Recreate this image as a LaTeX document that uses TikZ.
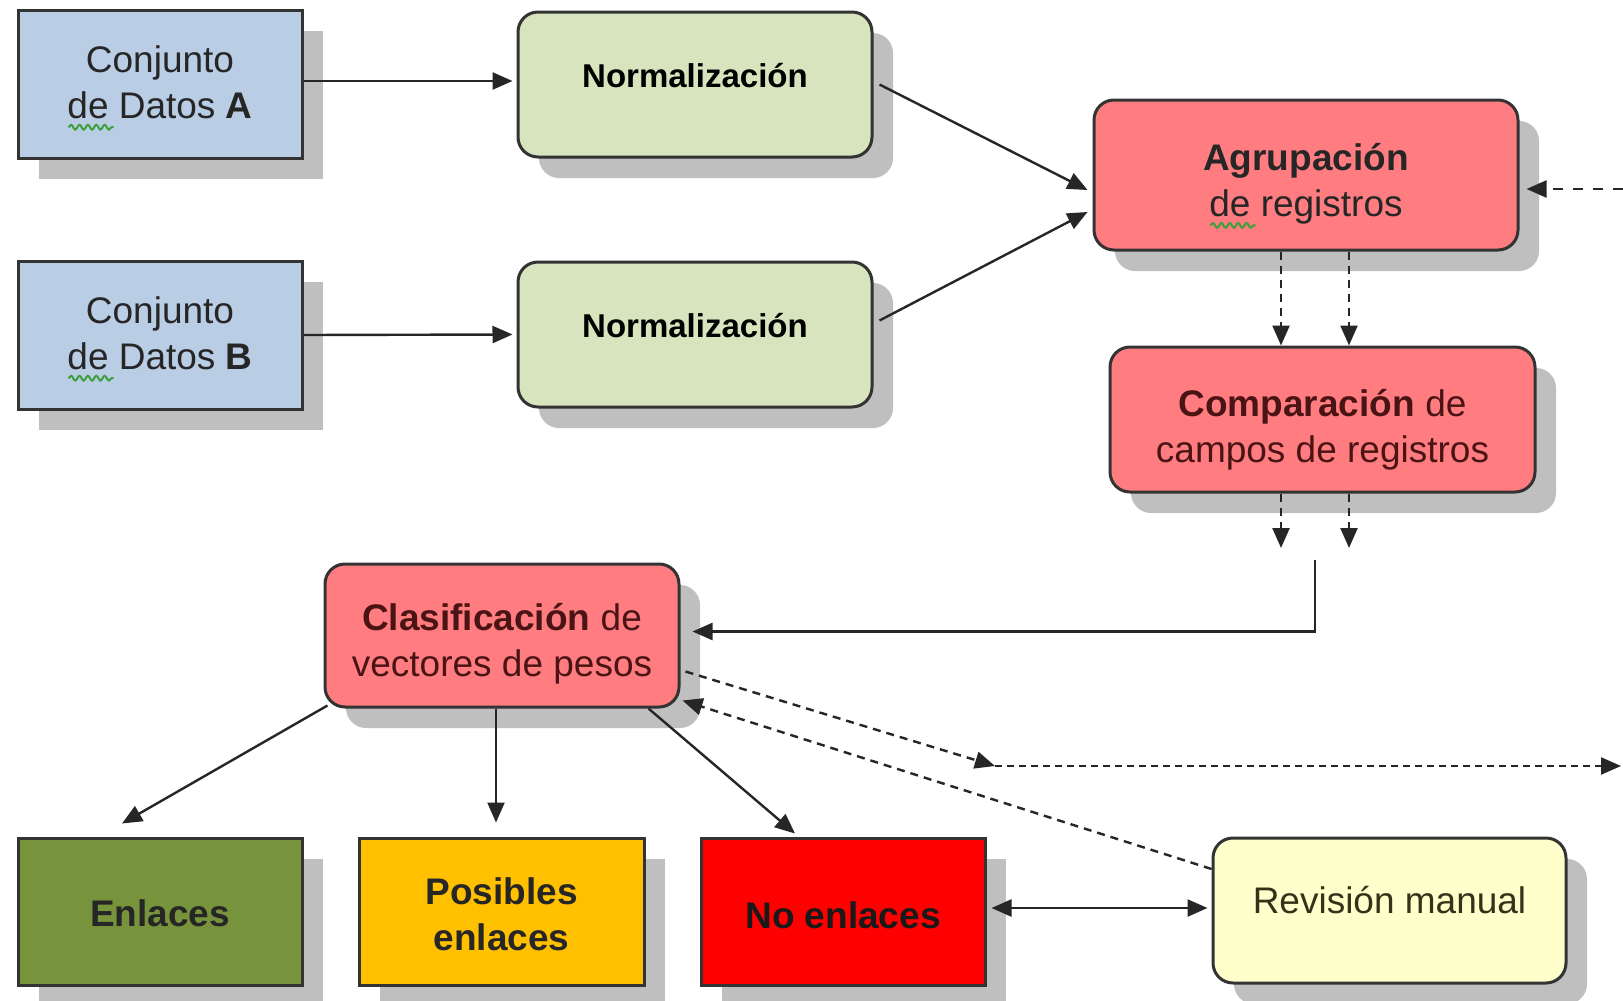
\documentclass[tikz,border=0pt]{standalone}
\usepackage{fontspec}
\setmainfont{Liberation Sans}
\usetikzlibrary{arrows.meta,shadows,decorations.pathmorphing}
\definecolor{blueFill}{HTML}{B9CDE5}
\definecolor{greenFill}{HTML}{D7E4BD}
\definecolor{salmonFill}{HTML}{FF7C80}
\definecolor{oliveFill}{HTML}{77933C}
\definecolor{amberFill}{HTML}{FFC000}
\definecolor{redFill}{HTML}{FF0000}
\definecolor{paleYellow}{HTML}{FFFFCC}
\definecolor{shadowGray}{HTML}{BFBFBF}
\definecolor{edgeGray}{HTML}{333333}
\definecolor{lineGray}{HTML}{262626}
\definecolor{maroonText}{HTML}{4A1414}
\definecolor{oliveText}{HTML}{33331A}
\definecolor{spellGreen}{HTML}{3CA03C}
\newsavebox\spellbox
\newcommand\spellmark[1]{\sbox\spellbox{#1}\rlap{\tikz[baseline=0pt]\draw[draw=spellGreen,line width=1pt,sharp corners,solid,-,decorate,decoration={snake,amplitude=1.2pt,segment length=4.2pt}] (-1pt,-4.5pt) -- (\the\dimexpr\wd\spellbox+1pt\relax,-4.5pt);}#1}
\begin{document}
\begin{tikzpicture}[x=0.5pt,y=-0.5pt,
  >={Triangle[length=10pt,width=8.5pt]},
  shadowed/.style={drop shadow={shadow xshift=10.5pt,shadow yshift=-10.5pt,fill=shadowGray,opacity=1}},
  boxbase/.style={shadowed,draw=edgeGray,line width=1.5pt,inner sep=0pt},
  sqbox/.style={boxbase,rectangle},
  rdbox/.style={boxbase,rounded corners=10pt},
  txt/.style={align=center,inner sep=0pt,font=\fontsize{18.5}{23}\selectfont},
  btxt/.style={txt,font=\fontsize{18.5}{23}\selectfont\bfseries},
  ntxt/.style={txt,font=\fontsize{16.5}{20}\selectfont\bfseries},
  conn/.style={draw=lineGray,line width=1.2pt,->},
  dconn/.style={conn,dash pattern=on 4pt off 3pt},
]
\fill[white] (0,0) rectangle (1623,1001);
\useasboundingbox (0,0) rectangle (1623,1001);

% boxes
\node[sqbox,fill=blueFill,minimum width=142pt,minimum height=74pt] (dsA) at (160,84) {};
\node[sqbox,fill=blueFill,minimum width=142pt,minimum height=74pt] (dsB) at (160,335) {};
\node[rdbox,fill=greenFill,minimum width=177pt,minimum height=72.5pt] (n1) at (695,84.5) {};
\node[rdbox,fill=greenFill,minimum width=177pt,minimum height=72.5pt] (n2) at (695,334.5) {};
\node[rdbox,fill=salmonFill,minimum width=212pt,minimum height=75pt] (agr) at (1306,175) {};
\node[rdbox,fill=salmonFill,minimum width=212.5pt,minimum height=72.5pt] (cmp) at (1322.5,419.5) {};
\node[rdbox,fill=salmonFill,minimum width=177pt,minimum height=71.5pt] (cls) at (502,635.5) {};
\node[sqbox,fill=oliveFill,minimum width=142pt,minimum height=73.5pt] (enl) at (160,911.5) {};
\node[sqbox,fill=amberFill,minimum width=142.5pt,minimum height=73.5pt] (pos) at (501.5,911.5) {};
\node[sqbox,fill=redFill,minimum width=142pt,minimum height=73.5pt] (noe) at (843,911.5) {};
\node[rdbox,fill=paleYellow,minimum width=176.5pt,minimum height=72.5pt] (rev) at (1389.5,910.5) {};

% texts
\node[txt,text=black!85] (dsAt) at ([yshift=-2pt]dsA.center) {Conjunto\\\spellmark{de} Datos \textbf{A}};
\node[txt,text=black!85] (dsBt) at ([yshift=-2pt]dsB.center) {Conjunto\\\spellmark{de} Datos \textbf{B}};
\node[ntxt] (n1t) at ([yshift=4.5pt]n1.center) {Normalización};
\node[ntxt] (n2t) at ([yshift=4.5pt]n2.center) {Normalización};
\node[txt,text=black!85] (agrt) at ([yshift=-5.5pt]agr.center) {\textbf{Agrupación}\\\spellmark{de} registros};
\node[txt,text=maroonText] (cmpt) at ([yshift=-5pt]cmp.center) {\textbf{Comparación} de\\campos de registros};
\node[txt,text=maroonText] (clst) at ([yshift=-4pt]cls.center) {\textbf{Clasificación} de\\vectores de pesos};
\node[btxt,text=black!85] (enlt) at ([yshift=-1pt]enl.center) {Enlaces};
\node[btxt,text=black!85] (post) at ([yshift=-1.5pt]pos.center) {Posibles\\enlaces};
\node[btxt,text=black!90] (noet) at ([yshift=-2pt]noe.center) {No enlaces};
\node[txt,text=oliveText] (revt) at ([yshift=5pt]rev.center) {Revisión manual};

% free ends
\coordinate (xL) at (1281,0);
\coordinate (xR) at (1349,0);
\coordinate (oL) at (1281,548);
\coordinate (oR) at (1349,548);
\coordinate (rin) at (1623,189);
\coordinate (elb) at (1315,560);
\coordinate (jn) at (995,766);
\coordinate (rout) at (1621,766);

% connectors
\draw[conn] ([yshift=1.5pt]dsA.east) -- ([xshift=-2pt,yshift=1.75pt]n1.west);
\draw[conn] (dsB.east) -- ([xshift=-2pt]n2.west);
\draw[conn] ([xshift=3pt]n1.east) -- ([xshift=-2.5pt,yshift=-7.5pt]agr.west);
\draw[conn] ([xshift=3pt,yshift=7pt]n2.east) -- ([xshift=-2.5pt,yshift=-18.5pt]agr.west);
\draw[dconn,dash pattern=on 5pt off 5pt] (rin) -- ([xshift=3.5pt,yshift=-7pt]agr.east);
\draw[dconn] (agr.south -| xL) -- (cmp.north -| xL);
\draw[dconn] (agr.south -| xR) -- (cmp.north -| xR);
\draw[dconn] (cmp.south -| xL) -- (oL);
\draw[dconn] (cmp.south -| xR) -- (oR);
\draw[conn] (elb) |- ([xshift=6pt,yshift=2pt]cls.east);
\draw[conn] ([xshift=2pt,yshift=1.5pt]cls.south west) -- ([xshift=-19pt,yshift=6.5pt]enl.north);
\draw[conn] ([xshift=-3pt]cls.south) -- ([xshift=-2.75pt,yshift=7pt]pos.north);
\draw[conn] ([xshift=-16pt]cls.south east) -- ([xshift=-24pt,yshift=1.5pt]noe.north);
\draw[dconn] ([xshift=2.5pt,yshift=-18pt]cls.east) -- (jn);
\draw[dconn,dash pattern=on 3.5pt off 2.5pt] (jn) -- (rout);
\draw[dconn] ([yshift=20.75pt]rev.west) -- ([xshift=1pt,yshift=4pt]cls.south east);
\draw[conn,<->] ([xshift=2.5pt,yshift=1.75pt]noe.east) -- ([xshift=-2pt,yshift=1.25pt]rev.west);
\end{tikzpicture}
\end{document}
